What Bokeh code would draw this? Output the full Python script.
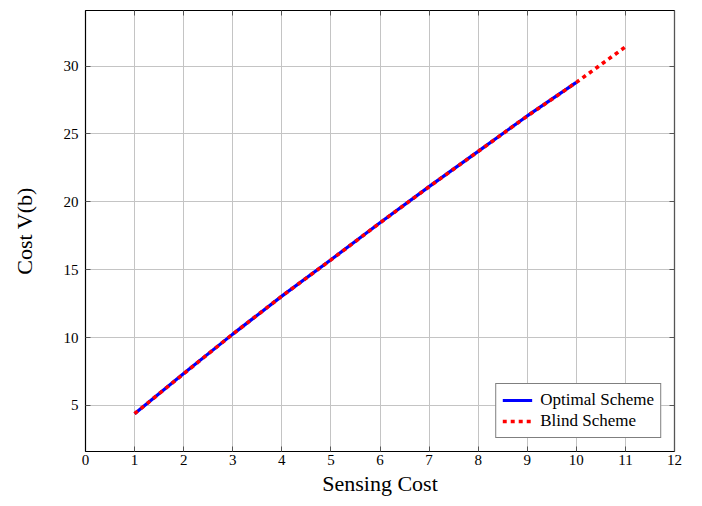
from bokeh.plotting import figure
from bokeh.models import Range1d, LinearAxis, FixedTicker, Legend, LegendItem
from bokeh.embed import file_html
from bokeh.resources import INLINE

sensing_cost_opt = [1, 2, 3, 4, 5, 6, 7, 8, 9, 10]
optimal_cost = [4.39, 7.35, 10.25, 13.05, 15.73, 18.46, 21.12, 23.72, 26.33, 28.80]
sensing_cost_blind = [1, 2, 3, 4, 5, 6, 7, 8, 9, 10, 11]
blind_cost = [4.39, 7.33, 10.25, 13.05, 15.72, 18.45, 21.11, 23.71, 26.32, 28.80, 31.42]
x_ticks = list(range(0, 13))
y_ticks = [5, 10, 15, 20, 25, 30]

FONT = "Liberation Serif"

p = figure(width=686, height=498, output_backend="svg", toolbar_location=None,
           x_range=Range1d(0, 12), y_range=Range1d(1.6, 34.1),
           min_border_left=85, min_border_right=12, min_border_top=10, min_border_bottom=40)

p.outline_line_color = "black"
p.outline_line_width = 1.2
p.background_fill_color = "white"
p.border_fill_color = "white"

for ax in (p.xaxis[0], p.yaxis[0]):
    ax.major_tick_in = 5
    ax.major_tick_out = 0
    ax.minor_tick_in = 0
    ax.minor_tick_out = 0
    ax.axis_line_color = "black"
    ax.major_tick_line_color = "#555555"
    ax.major_label_text_font = FONT
    ax.major_label_text_font_size = "15px"
    ax.major_label_text_color = "black"
    ax.axis_label_text_font = FONT
    ax.axis_label_text_font_size = "22px"
    ax.axis_label_text_font_style = "normal"
    ax.axis_label_text_color = "black"

p.xaxis[0].ticker = FixedTicker(ticks=x_ticks)
p.yaxis[0].ticker = FixedTicker(ticks=y_ticks)
p.xaxis[0].axis_label = "Sensing Cost"
p.yaxis[0].axis_label = "Cost V(b)"
p.xaxis[0].major_label_standoff = 3
p.xaxis[0].axis_label_standoff = 3
p.yaxis[0].major_label_standoff = 7
p.yaxis[0].axis_label_standoff = 24

right_ax = LinearAxis(ticker=FixedTicker(ticks=y_ticks), major_tick_in=5, major_tick_out=0,
                      minor_tick_in=0, minor_tick_out=0,
                      major_label_overrides={t: "" for t in y_ticks},
                      major_tick_line_color="#555555", axis_line_color="#555555",
                      major_label_standoff=0)
p.add_layout(right_ax, "right")
top_ax = LinearAxis(ticker=FixedTicker(ticks=x_ticks), major_tick_in=5, major_tick_out=0,
                    minor_tick_in=0, minor_tick_out=0,
                    major_label_overrides={t: "" for t in x_ticks},
                    major_tick_line_color="#555555", axis_line_color="black",
                    major_label_standoff=0)
p.add_layout(top_ax, "above")

p.xgrid.ticker = FixedTicker(ticks=x_ticks)
p.ygrid.ticker = FixedTicker(ticks=y_ticks)
p.xgrid.grid_line_color = "#c4c4c4"
p.ygrid.grid_line_color = "#c4c4c4"
p.xgrid.grid_line_width = 1
p.ygrid.grid_line_width = 1

r_opt = p.line(sensing_cost_opt, optimal_cost, line_color="#0000ff", line_width=3.2)
r_blind = p.line(sensing_cost_blind, blind_cost, line_color="#ff0000", line_width=3.6,
                 line_dash="4 4")

legend = Legend(items=[LegendItem(label="Optimal Scheme", renderers=[r_opt]),
                       LegendItem(label="Blind Scheme", renderers=[r_blind])],
                location="bottom_right")
legend.label_text_font = FONT
legend.label_text_font_size = "17px"
legend.label_text_color = "black"
legend.border_line_color = "black"
legend.border_line_width = 1
legend.background_fill_alpha = 1
legend.glyph_width = 30
legend.spacing = 1
legend.padding = 6
legend.margin = 13
legend.label_height = 20
legend.glyph_height = 20
legend.label_standoff = 8
p.add_layout(legend)

open("out.html", "w").write(file_html(p, INLINE))
